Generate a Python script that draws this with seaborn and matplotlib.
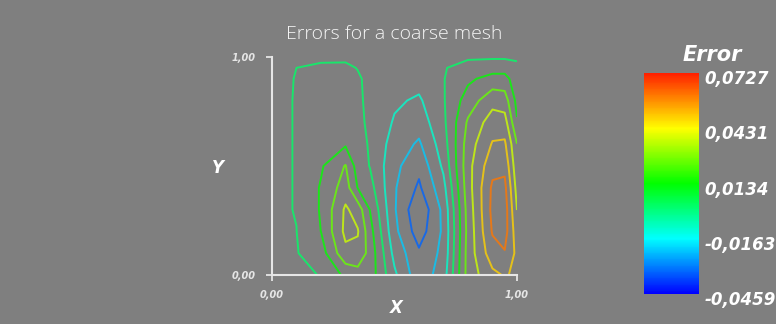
import numpy as np
import seaborn as sns
import matplotlib
matplotlib.use("Agg")
import matplotlib.pyplot as plt
import matplotlib.transforms as mtransforms
from matplotlib.colors import Normalize
from matplotlib.cm import ScalarMappable

# mesh nodes (coarse mesh) and nodal error values
x_nodes = [0.0, 0.1, 0.2, 0.3, 0.35, 0.4, 0.5, 0.6, 0.7, 0.8, 0.9, 0.95, 1.0]
y_nodes = [0.0, 0.1, 0.2, 0.3, 0.4, 0.5, 0.6, 0.7, 0.8, 0.9, 0.95, 1.0]

# one row per y node, columns follow x_nodes
error_y000 = [0, 0.0004, 0.0017, 0.016, 0.020, 0.020, -0.008, -0.030, -0.016, 0.030, 0.046, 0.050, 0.047]
error_y010 = [0, 0.0009, 0.008, 0.034, 0.034, 0.021, -0.014, -0.032, -0.019, 0.030, 0.056, 0.060, 0.046]
error_y020 = [0, 0.0014, 0.0135, 0.040, 0.038, 0.018, -0.019, -0.040, -0.020, 0.029, 0.062, 0.066, 0.042]
error_y030 = [0, 0.0018, 0.0145, 0.039, 0.032, 0.013, -0.021, -0.044, -0.019, 0.030, 0.064, 0.067, 0.037]
error_y040 = [0, 0.0018, 0.0145, 0.031, 0.013, 0.006, -0.021, -0.036, -0.014, 0.032, 0.063, 0.064, 0.033]
error_y050 = [0, 0.0018, 0.012, 0.026, 0.008, 0.001, -0.019, -0.031, -0.008, 0.033, 0.057, 0.058, 0.029]
error_y060 = [0, 0.0018, 0.009, 0.012, 0.007, 0.0, -0.0155, -0.024, -0.004, 0.031, 0.050, 0.051, 0.0255]
error_y070 = [0, 0.0018, 0.007, 0.008, 0.004, -0.0005, -0.0115, -0.017, -0.001, 0.027, 0.043, 0.042, 0.0145]
error_y080 = [0, 0.0018, 0.0055, 0.0065, 0.003, -0.0005, -0.0085, -0.012, 0.0005, 0.019, 0.033, 0.031, 0.010]
error_y090 = [0, 0.0017, 0.0045, 0.0055, 0.0025, -0.0005, -0.003, -0.006, 0.001, 0.011, 0.018, 0.018, 0.006]
error_y095 = [0, 0.0015, 0.0028, 0.003, 0.0012, -0.0003, -0.0015, -0.003, 0.0008, 0.0055, 0.008, 0.008, 0.0038]
error_y100 = [0, 0, 0, 0, 0, 0, 0, 0, 0, 0, 0, 0, 0]

contour_levels = [-0.0340, -0.0222, -0.0103, 0.0015, 0.0134, 0.0253, 0.0371, 0.0490, 0.0609]

error_min = -0.0459
error_max = 0.0727
cbar_ticks = [-0.0459, -0.0163, 0.0134, 0.0431, 0.0727]
cbar_labels = ["-0,0459", "-0,0163", "0,0134", "0,0431", "0,0727"]
axis_ticks = [0.0, 1.0]
axis_labels = ["0,00", "1,00"]

error = np.array([error_y000, error_y010, error_y020, error_y030, error_y040, error_y050,
                  error_y060, error_y070, error_y080, error_y090, error_y095, error_y100])

bg = "#7f7f7f"
fg = "#e6e6e6"

sns.set_theme(style="white", rc={"figure.facecolor": bg, "axes.facecolor": bg,
                                 "savefig.facecolor": bg})
plt.rcParams["font.family"] = ["DejaVu Sans"]

# rainbow map: blue -> cyan -> green -> yellow -> red
cmap = sns.blend_palette(["#0000ff", "#00ffff", "#00ff00", "#ffff00", "#ff2000"], as_cmap=True)
norm = Normalize(vmin=error_min, vmax=error_max)

fig = plt.figure(figsize=(7.76, 3.24), dpi=100)
ax = fig.add_axes([0.3505, 0.1512, 0.3157, 0.673])

ax.contour(x_nodes, y_nodes, error, levels=contour_levels, cmap=cmap, norm=norm,
           linewidths=1.4, alpha=0.8)

ax.set_xlim(0, 1)
ax.set_ylim(0, 1)
sns.despine(ax=ax)
for side in ["left", "bottom"]:
    ax.spines[side].set_color(fg)
    ax.spines[side].set_linewidth(1.5)

ax.set_xticks(axis_ticks)
ax.set_yticks(axis_ticks)
ax.set_xticklabels(axis_labels)
ax.set_yticklabels(axis_labels)
ax.tick_params(axis="both", colors=fg, labelcolor=fg, length=4, width=1.3,
               labelsize=7, direction="out", bottom=True, left=True)
ax.tick_params(axis="x", pad=7)
ax.tick_params(axis="y", pad=8)
for lab in ax.get_xticklabels() + ax.get_yticklabels():
    lab.set_fontweight("bold")
    lab.set_fontstyle("italic")

ax.set_xlabel("X", color="white", fontsize=12, fontweight="bold", fontstyle="italic",
              va="center")
ax.set_ylabel("Y", color="white", fontsize=12, fontweight="bold", fontstyle="italic",
              rotation=0, va="center", ha="center")
ax.xaxis.set_label_coords(0.506, -0.15)
ax.yaxis.set_label_coords(-0.22, 0.49)

ax.set_title("Errors for a coarse mesh", color="#f4f4f4", fontsize=14,
             fontfamily="Open Sans", fontweight="light", pad=13)

# colour bar
cax = fig.add_axes([0.830, 0.0926, 0.0709, 0.682])
cb = fig.colorbar(ScalarMappable(norm=norm, cmap=cmap), cax=cax, ticks=cbar_ticks)
cb.outline.set_visible(False)
cb.ax.set_yticklabels(cbar_labels)
cb.ax.tick_params(length=0, pad=4, labelsize=12, labelcolor="white")
offset = mtransforms.ScaledTranslation(0, -0.04, fig.dpi_scale_trans)
for lab in cb.ax.get_yticklabels():
    lab.set_fontweight("bold")
    lab.set_fontstyle("italic")
    lab.set_transform(lab.get_transform() + offset)

fig.text(0.918, 0.83, "Error", color="white", fontsize=15, fontweight="bold",
         fontstyle="italic", ha="center", va="center")

fig.savefig("out.png", dpi=100)
